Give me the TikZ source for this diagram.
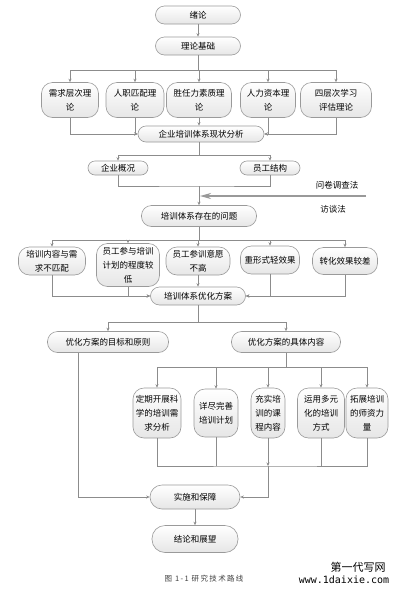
\documentclass[tikz,border=0pt]{standalone}
\usepackage{fontspec}
\newfontfamily\cjk{Noto Sans CJK SC}
\newfontfamily\capf[LetterSpace=18]{Noto Sans CJK SC}
\newfontfamily\wmono{DejaVu Sans Mono}
\usetikzlibrary{arrows.meta}
\definecolor{bordc}{HTML}{9A9A9A}
\definecolor{linec}{HTML}{8C8C8C}
\definecolor{fillb}{HTML}{E6E6E6}
\tikzset{
  box/.style={draw=bordc, line width=0.6pt, rounded corners=#1, top color=white, bottom color=fillb,
    font=\cjk\fontsize{8.5}{14}\selectfont, align=center, inner sep=0pt, text=black},
  box/.default=9pt,
  ln/.style={draw=linec, line width=0.6pt},
  arr/.style={draw=linec, line width=0.6pt, -{Stealth[length=3.5pt,width=3pt]}},
  bigarr/.style={draw=gray!80, line width=1.8pt, -{Stealth[length=11pt,width=6pt]}},
  lbl/.style={font=\cjk\fontsize{8.5}{10}\selectfont, text=black, inner sep=0pt}
}
\begin{document}
\begin{tikzpicture}[x=1pt,y=-1pt]
\useasboundingbox[fill=white] (0,0) rectangle (400,595);
% top
\node[box, minimum width=85pt, minimum height=18pt] (zx) at (198,15) {绪论};
\node[box, minimum width=85pt, minimum height=18pt] (ll) at (198,46) {理论基础};
% row 1
\begin{scope}[every node/.append style={font=\cjk\fontsize{8.5}{16}\selectfont, minimum height=35pt}]
\node[box=11pt, minimum width=57pt] (t1) at (70,100) {需求层次理\\论};
\node[box=11pt, minimum width=58pt] (t2) at (135,100) {人职匹配理\\论};
\node[box=11pt, minimum width=65pt] (t3) at (199,100) {胜任力素质理\\论};
\node[box=11pt, minimum width=55pt] (t4) at (268,100) {人力资本理\\论};
\node[box=11pt, minimum width=71pt] (t5) at (336,100) {四层次学习\\评估理论};
\end{scope}
\node[box=8pt, minimum width=126pt, minimum height=16pt] (xz) at (201,134) {企业培训体系现状分析};
\node[box=7pt, minimum width=60pt, minimum height=14pt] (g1) at (118,168) {企业概况};
\node[box=7pt, minimum width=60pt, minimum height=14pt] (g2) at (270,168) {员工结构};
\node[box=10pt, minimum width=115pt, minimum height=21pt] (wt) at (199,216) {培训体系存在的问题};
\node[lbl] (wj) at (337,185) {问卷调查法};
\node[lbl] (ft) at (333,209) {访谈法};
% row 2
\node[box=11pt, minimum width=67pt, minimum height=28pt] (p1) at (52,261) {培训内容与需\\求不匹配};
\node[box=11pt, minimum width=63pt, minimum height=43pt] (p2) at (128,265) {员工参与培训\\计划的程度较\\低};
\node[box=11pt, minimum width=64pt, minimum height=28pt] (p3) at (198,261) {员工参训意愿\\不高};
\node[box=11pt, minimum width=59pt, minimum height=28pt] (p4) at (270,260) {重形式轻效果};
\node[box=11pt, minimum width=65pt, minimum height=27pt] (p5) at (345,261) {转化效果较差};
\node[box=9pt, minimum width=95pt, minimum height=18pt] (yh) at (198,296) {培训体系优化方案};
\node[box=10pt, minimum width=121pt, minimum height=21pt] (q1) at (108,342) {优化方案的目标和原则};
\node[box=10pt, minimum width=109pt, minimum height=21pt] (q2) at (286,342) {优化方案的具体内容};
% row 3
\node[box=11pt, minimum width=48pt, minimum height=50pt] (r1) at (157,413) {定期开展科\\学的培训需\\求分析};
\node[box=11pt, minimum width=44pt, minimum height=48pt] (r2) at (216,413) {详尽完善\\培训计划};
\node[box=11pt, minimum width=34pt, minimum height=50pt] (r3) at (268,413) {充实培\\训的课\\程内容};
\node[box=11pt, minimum width=47pt, minimum height=50pt] (r4) at (321,413) {运用多元\\化的培训\\方式};
\node[box=11pt, minimum width=42pt, minimum height=50pt] (r5) at (367,413) {拓展培训\\的师资力\\量};
\node[box=12pt, minimum width=90pt, minimum height=24pt] (ss) at (195,497) {实施和保障};
\node[box=13pt, minimum width=86pt, minimum height=27pt] (jl) at (195,539) {结论和展望};
% caption & watermark
\node[font=\capf\fontsize{7.5}{8}\selectfont, text=black!75, inner sep=0pt] (cap) at (204,579) {图 1-1 研究技术路线};
\node[font=\cjk\fontsize{11}{12}\selectfont, inner sep=0pt] (wm1) at (358,567) {第一代写网};
\node[font=\wmono\fontsize{10}{11}\selectfont, inner sep=0pt] (wm2) at (344,580) {www.1daixie.com};
% coordinates
\coordinate (b1) at (198,70);
\coordinate (b2) at (199,155);
\coordinate (m2) at (199,186);
\coordinate (ar) at (366,196);
\coordinate (al) at (200,196);
\coordinate (b3) at (199,240);
\coordinate (b4) at (198,322);
\coordinate (b5) at (286,367);
\coordinate (b6) at (268,466);
\coordinate (c1) at (78,352.5);
% connectors
\draw[arr] (zx) -- (ll);
\draw[ln] (ll.south) -- (b1);
\foreach \n in {t1,t2,t3,t4,t5} \draw[arr] (b1) -| (\n.north);
\draw[arr] (t1.south) |- (xz.west);
\draw[arr] (t2.south) |- (xz.west);
\draw[arr] (t3.south) -- (t3.south |- xz.north);
\draw[arr] (t4.south) |- (xz.east);
\draw[arr] (t5.south) |- (xz.east);
\draw[ln] (xz.south -| b2) -- (b2);
\draw[arr] (b2) -| (g1.north);
\draw[arr] (b2) -| (g2.north);
\draw[ln] (g1.south) |- (m2) -| (g2.south);
\draw[arr] (m2) -- (wt.north);
\draw[bigarr] (ar) -- (al);
\draw[ln] (wt.south) -- (b3);
\foreach \n in {p1,p2,p3,p4,p5} \draw[arr] (b3) -| (\n.north);
\draw[arr] (p1.south) |- (yh.west);
\draw[arr] (p2.south) |- (yh.west);
\draw[arr] (p3.south) -- (yh.north);
\draw[arr] (p4.south) |- (yh.east);
\draw[arr] (p5.south) |- (yh.east);
\draw[ln] (yh.south) -- (b4);
\draw[arr] (b4) -| (q1.north);
\draw[arr] (b4) -| (q2.north);
\draw[ln] (q2.south) -- (b5);
\foreach \n in {r1,r2,r3,r4,r5} \draw[arr] (b5) -| (\n.north);
\draw[ln] (r1.south) |- (b6) -| (r5.south);
\draw[ln] (r2.south) -- (r2.south |- b6);
\draw[ln] (r4.south) -- (r4.south |- b6);
\draw[arr, line width=1pt] (r3.south) -- (b6);
\draw[arr, line width=1pt] (b6) |- (ss.east);
\draw[arr] (c1) |- (ss.west);
\draw[arr] (ss) -- (jl);
\end{tikzpicture}
\end{document}
